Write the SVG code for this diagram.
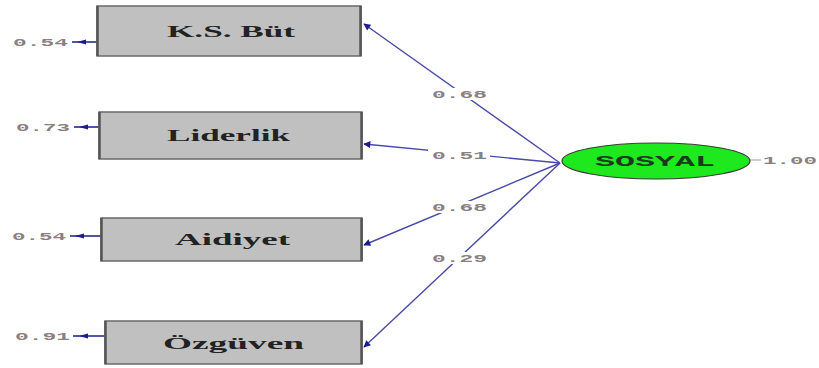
<svg xmlns="http://www.w3.org/2000/svg" width="819" height="368" viewBox="0 0 819 368">
<defs>
<marker id="ah" viewBox="0 0 10 10" refX="9" refY="5" markerWidth="9" markerHeight="7" markerUnits="userSpaceOnUse" orient="auto">
<path d="M0,0 L10,5 L0,10 z" fill="#1c1c8c"/>
</marker>
<style>
.box{fill:#c0c0c0;stroke:#6a6a6a;stroke-width:1.5}
.side{stroke:#555;stroke-width:2.5}
.lbl{font-family:"Liberation Serif",serif;font-weight:bold;font-size:17px;fill:#222}
.num{font-family:"Liberation Mono",monospace;font-weight:bold;font-size:10px;fill:#8a8080}
.path{stroke:#4a4aa8;stroke-width:1.4;fill:none}
.err{stroke:#2a2a90;stroke-width:1.6;fill:none}
</style>
</defs>
<g id="connectors">
<line class="path" x1="560" y1="163" x2="364" y2="24" marker-end="url(#ah)"/>
<line class="path" x1="560" y1="163" x2="364" y2="144" marker-end="url(#ah)"/>
<line class="path" x1="560" y1="163" x2="364" y2="245" marker-end="url(#ah)"/>
<line class="path" x1="560" y1="163" x2="364" y2="347" marker-end="url(#ah)"/>
<line class="err" x1="72" y1="42" x2="97" y2="42"/>
<path d="M77,42 L86,39.5 L86,44.5 z" fill="#1c1c8c"/>
<line class="err" x1="74" y1="127" x2="99" y2="127"/>
<path d="M79,127 L88,124.5 L88,129.5 z" fill="#1c1c8c"/>
<line class="err" x1="70" y1="236" x2="101" y2="236"/>
<path d="M75,236 L84,233.5 L84,238.5 z" fill="#1c1c8c"/>
<line class="err" x1="73" y1="336" x2="105" y2="336"/>
<path d="M79,336 L88,333.5 L88,338.5 z" fill="#1c1c8c"/>
<line x1="750" y1="160" x2="761" y2="160" stroke="#b0b0b0" stroke-width="1.2"/>
<rect x="428" y="88" width="62" height="12" fill="#fff"/>
<rect x="428" y="149" width="62" height="12" fill="#fff"/>
<rect x="428" y="201" width="62" height="12" fill="#fff"/>
<rect x="428" y="252" width="62" height="12" fill="#fff"/>
<text class="num" x="432" y="98" textLength="55" lengthAdjust="spacingAndGlyphs">0.68</text>
<text class="num" x="432" y="159" textLength="55" lengthAdjust="spacingAndGlyphs">0.51</text>
<text class="num" x="432" y="211" textLength="55" lengthAdjust="spacingAndGlyphs">0.68</text>
<text class="num" x="432" y="262" textLength="55" lengthAdjust="spacingAndGlyphs">0.29</text>
</g>
<g id="node-ksbut">
<rect class="box" x="97" y="6" width="264" height="50"/>
<line class="side" x1="97.5" y1="6" x2="97.5" y2="56"/>
<line class="side" x1="360.5" y1="6" x2="360.5" y2="56"/>
<text class="lbl" x="167" y="37" textLength="128" lengthAdjust="spacingAndGlyphs">K.S. Büt</text>
<text class="num" x="13" y="46" textLength="55" lengthAdjust="spacingAndGlyphs">0.54</text>
</g>
<g id="node-liderlik">
<rect class="box" x="99" y="112" width="263" height="47"/>
<line class="side" x1="99.5" y1="112" x2="99.5" y2="159"/>
<line class="side" x1="361.5" y1="112" x2="361.5" y2="159"/>
<text class="lbl" x="167" y="141" textLength="123" lengthAdjust="spacingAndGlyphs">Liderlik</text>
<text class="num" x="16" y="131" textLength="54" lengthAdjust="spacingAndGlyphs">0.73</text>
</g>
<g id="node-aidiyet">
<rect class="box" x="101" y="218" width="261" height="43"/>
<line class="side" x1="101.5" y1="218" x2="101.5" y2="261"/>
<line class="side" x1="361.5" y1="218" x2="361.5" y2="261"/>
<text class="lbl" x="175" y="245" textLength="115" lengthAdjust="spacingAndGlyphs">Aidiyet</text>
<text class="num" x="12" y="240" textLength="54" lengthAdjust="spacingAndGlyphs">0.54</text>
</g>
<g id="node-ozguven">
<rect class="box" x="105" y="321" width="257" height="43"/>
<line class="side" x1="105.5" y1="321" x2="105.5" y2="364"/>
<line class="side" x1="361.5" y1="321" x2="361.5" y2="364"/>
<text class="lbl" x="163" y="349" textLength="141" lengthAdjust="spacingAndGlyphs">Özgüven</text>
<text class="num" x="15" y="340" textLength="55" lengthAdjust="spacingAndGlyphs">0.91</text>
</g>
<g id="node-sosyal">
<ellipse cx="656" cy="161" rx="94" ry="18" fill="#1ee81e" stroke="#3a3a3a" stroke-width="1.2"/>
<text x="595" y="166" font-family="Liberation Mono, monospace" font-weight="bold" font-size="14" fill="#1a3a1a" textLength="120" lengthAdjust="spacingAndGlyphs">SOSYAL</text>
<text class="num" x="763" y="164" textLength="54" lengthAdjust="spacingAndGlyphs">1.00</text>
</g>
</svg>
